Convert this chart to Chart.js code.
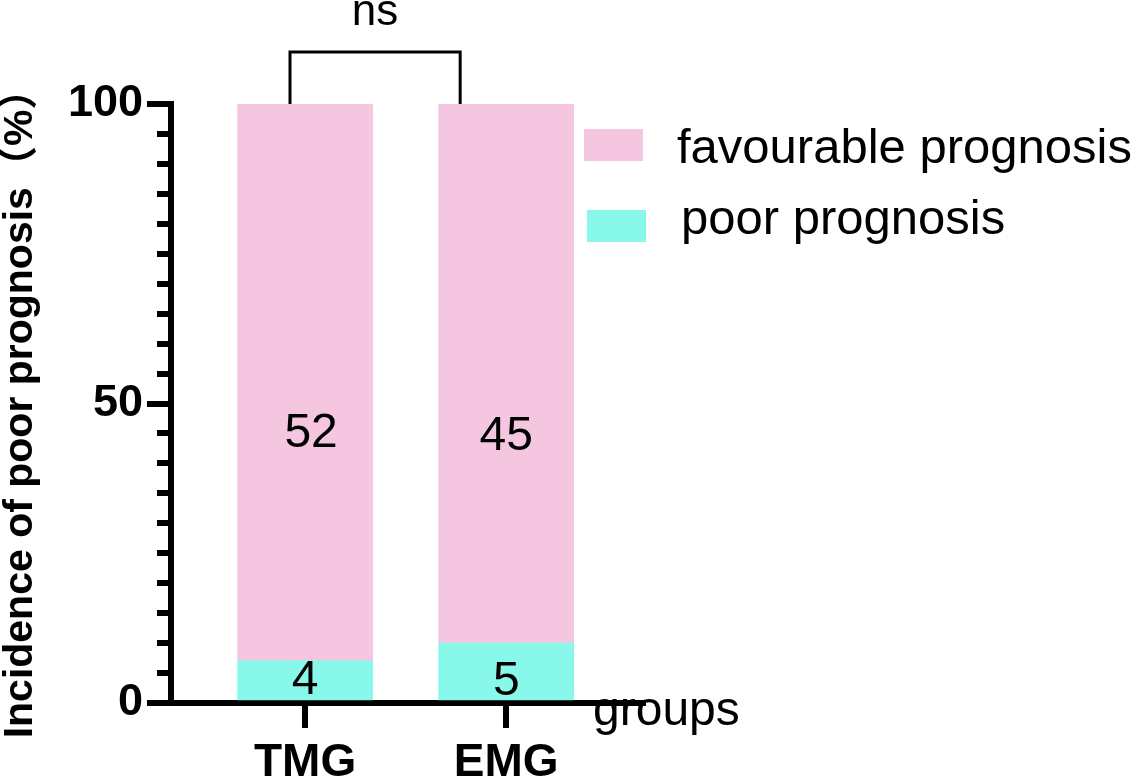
<!DOCTYPE html>
<html><head><meta charset="utf-8">
<script src="https://cdn.jsdelivr.net/npm/chart.js@4"></script>
<style>html,body{margin:0;padding:0;background:#fff}canvas{display:block}</style>
</head><body>
<canvas id="c" width="1136" height="784"></canvas>
<script>
// ---- data ----
const categories = ['TMG', 'EMG'];
const seriesNames = ['favourable prognosis', 'poor prognosis'];
const poorPercent = [7.1, 10];
const favourablePercent = [92.9, 90];
const poorCounts = [4, 5];
const favourableCounts = [52, 45];
const yTickValues = [0, 50, 100];
const yMinorStep = 5;
const significanceLabel = 'ns';
const axisLabelX = 'groups';
const axisLabelY = 'Incidence of poor prognosis（%）';

const FONT = "'Liberation Sans', Arial, 'Noto Sans CJK SC', sans-serif";
const PINK = '#F4C6DF';
const CYAN = '#88F8EB';
const LW = 6;

const decor = {
  id: 'decor',
  afterDraw(chart, args, o) {
    const ctx = chart.ctx;
    const xs = chart.scales.x, ys = chart.scales.y;
    const area = chart.chartArea;
    ctx.save();
    // minor y ticks
    ctx.strokeStyle = '#000';
    ctx.lineWidth = LW;
    for (let v = yMinorStep; v < 100; v += yMinorStep) {
      if (yTickValues.includes(v)) continue;
      const y = Math.round(ys.getPixelForValue(v));
      ctx.beginPath();
      ctx.moveTo(area.left - o.minorLen, y);
      ctx.lineTo(area.left, y);
      ctx.stroke();
    }
    // value labels
    ctx.fillStyle = '#000';
    ctx.textAlign = 'center';
    ctx.textBaseline = 'middle';
    ctx.font = '48px ' + FONT;
    const poorMeta = chart.getDatasetMeta(0), favMeta = chart.getDatasetMeta(1);
    poorMeta.data.forEach((bar, i) => {
      ctx.fillText(String(poorCounts[i]), bar.x, ys.getPixelForValue(o.poorLabelAt[i]));
    });
    favMeta.data.forEach((bar, i) => {
      ctx.fillText(String(favourableCounts[i]), bar.x + o.favLabelShift[i], ys.getPixelForValue(o.favLabelAt[i]));
    });
    // significance bracket
    const bx1 = xs.getPixelForValue(o.bracketX[0]);
    const bx2 = xs.getPixelForValue(o.bracketX[1]);
    const byTop = ys.getPixelForValue(o.bracketTop);
    const byBot = ys.getPixelForValue(100);
    ctx.lineWidth = 3;
    ctx.beginPath();
    ctx.moveTo(bx1, byBot);
    ctx.lineTo(bx1, byTop);
    ctx.lineTo(bx2, byTop);
    ctx.lineTo(bx2, byBot);
    ctx.stroke();
    ctx.font = '44px ' + FONT;
    ctx.textBaseline = 'alphabetic';
    ctx.fillText(significanceLabel, (bx1 + bx2) / 2, byTop - 27);
    // x axis name
    ctx.textAlign = 'left';
    ctx.font = '48px ' + FONT;
    ctx.fillText(axisLabelX, o.xNameX, o.xNameBaseline);
    // legend
    const legendItems = [
      {label: seriesNames[0], color: chart.data.datasets[1].backgroundColor},
      {label: seriesNames[1], color: chart.data.datasets[0].backgroundColor}
    ];
    ctx.font = '49px ' + FONT;
    legendItems.forEach((it, i) => {
      const L = o.legend[i];
      ctx.fillStyle = it.color;
      ctx.fillRect(L.bx, L.by, 59, 32);
      ctx.fillStyle = '#000';
      ctx.fillText(it.label, L.tx, L.ty);
    });
    ctx.restore();
  }
};

new Chart(document.getElementById('c'), {
  type: 'bar',
  data: {
    datasets: [
      {label: seriesNames[1], data: poorPercent.map((v, i) => ({x: i + 1, y: v})), backgroundColor: CYAN, barThickness: 135, borderWidth: 0},
      {label: seriesNames[0], data: favourablePercent.map((v, i) => ({x: i + 1, y: v})), backgroundColor: PINK, barThickness: 135, borderWidth: 0}
    ]
  },
  options: {
    responsive: false,
    devicePixelRatio: 1,
    animation: false,
    layout: {padding: {top: 104, right: 493, bottom: 0, left: 0}},
    plugins: {
      legend: {display: false},
      tooltip: {enabled: false},
      decor: {
        minorLen: 14,
        poorLabelAt: [3.7, 3.6],
        favLabelAt: [45, 44.5],
        favLabelShift: [6, 0],
        bracketX: [0.925, 1.771],
        bracketTop: 108.7,
        xNameX: 593,
        xNameBaseline: 725,
        legend: [
          {bx: 584, by: 129, tx: 677, ty: 163},
          {bx: 587, by: 210, tx: 681, ty: 234}
        ]
      }
    },
    scales: {
      x: {
        type: 'linear', min: 1 / 3, max: 2.68, stacked: true, offset: false,
        afterBuildTicks: s => { s.ticks = categories.map((c, i) => ({value: i + 1})); },
        afterFit: s => { s.height = 81; },
        ticks: {
          callback: v => categories[v - 1] ?? '',
          font: {family: FONT, size: 46, weight: 'bold'},
          color: '#000', padding: 8, maxRotation: 0, autoSkip: false
        },
        grid: {offset: false, drawOnChartArea: false, drawTicks: true, tickLength: 25, lineWidth: LW, tickWidth: LW, tickColor: '#000', color: '#000'},
        border: {display: true, width: LW, color: '#000'}
      },
      y: {
        min: 0, max: 100, stacked: true,
        afterBuildTicks: s => { s.ticks = yTickValues.map(v => ({value: v})); },
        afterFit: s => { s.width = 171; },
        ticks: {font: {family: FONT, size: 45, weight: 'bold'}, color: '#000', padding: 4},
        grid: {offset: false, drawOnChartArea: false, drawTicks: true, tickLength: 24, lineWidth: LW, tickWidth: LW, tickColor: '#000', color: '#000'},
        border: {display: true, width: LW, color: '#000'},
        title: {display: true, text: axisLabelY, color: '#000', padding: 0,
          font: {family: FONT, size: 41, weight: 'bold', lineHeight: 1}}
      }
    }
  },
  plugins: [decor]
});
</script>
</body></html>
